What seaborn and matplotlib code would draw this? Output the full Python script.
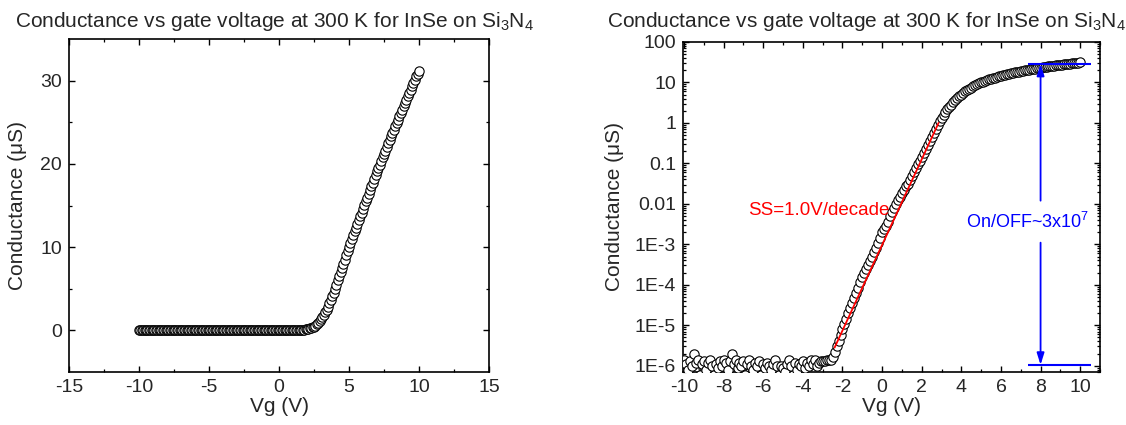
import numpy as np
import pandas as pd
import matplotlib
matplotlib.use("Agg")
import matplotlib.pyplot as plt
import matplotlib.ticker as mticker
import seaborn as sns

# ---------------- data ----------------
vg = np.round(np.linspace(-10, 10, 201), 1)  # gate voltage grid (V), 0.1 V step

# conductance (uS), off state  -10.0 ... -2.6 V
g_off = [1.4e-6, 1.1e-6, 8e-7, 1.3e-6, 1.0e-6, 2.0e-6, 1.2e-6, 1.4e-6, 6e-7, 1.1e-6,
         1.3e-6, 8e-7, 1.2e-6, 1.4e-6, 1.0e-6, 6e-7, 1.1e-6, 9e-7, 1.3e-6, 1.0e-6,
         1.4e-6, 1.2e-6, 8e-7, 1.3e-6, 2.0e-6, 1.1e-6, 1.4e-6, 9e-7, 1.2e-6, 1.0e-6,
         1.3e-6, 6e-7, 1.1e-6, 1.4e-6, 1.0e-6, 8e-7, 1.2e-6, 1.0e-6, 1.3e-6, 6e-7,
         1.1e-6, 9e-7, 1.2e-6, 1.0e-6, 8e-7, 1.1e-6, 1.4e-6, 1.0e-6, 6e-7, 1.0e-6,
         9e-7, 7e-7, 1.1e-6, 1.4e-6, 1.0e-6, 6e-7, 1.2e-6, 8e-7, 1.1e-6, 1.0e-6,
         1.3e-6, 9e-7, 1.2e-6, 1.0e-6, 1.4e-6, 1.1e-6, 1.4e-6, 1.0e-6, 1.2e-6, 1.3e-6,
         1.3e-6, 1.3e-6, 1.4e-6, 1.4e-6, 1.4e-6]
# subthreshold  -2.5 ... 2.9 V
g_sub = [1.66e-6, 2.24e-6, 3.16e-6, 4.17e-6, 5.62e-6, 7.94e-6, 1.05e-5, 1.41e-5, 2.0e-5, 2.69e-5,
         3.55e-5, 4.68e-5, 6.31e-5, 8.51e-5, 1.17e-4, 1.58e-4, 2.0e-4, 2.51e-4, 3.16e-4, 3.98e-4,
         4.9e-4, 6.31e-4, 7.94e-4, 1.05e-3, 1.41e-3, 2.0e-3, 2.4e-3, 2.8e-3, 3.5e-3, 5.0e-3,
         6.3e-3, 7.9e-3, 0.010, 0.0126, 0.0151, 0.019, 0.0224, 0.0269, 0.0316, 0.0398,
         0.0479, 0.060, 0.076, 0.095, 0.117, 0.145, 0.182, 0.229, 0.288, 0.363,
         0.457, 0.575, 0.724, 0.912, 1.12]
# on state  3.0 ... 10.0 V
g_on = [1.35, 1.6, 1.85, 2.15, 2.5, 2.85, 3.25, 3.65, 4.1, 4.55,
        5.0, 5.5, 6.0, 6.5, 7.0, 7.5, 8.0, 8.5, 9.0, 9.5,
        10.0, 10.5, 11.0, 11.45, 11.9, 12.35, 12.8, 13.25, 13.7, 14.15,
        14.6, 15.05, 15.5, 15.95, 16.4, 16.85, 17.3, 17.75, 18.2, 18.65,
        19.1, 19.5, 19.9, 20.35, 20.8, 21.2, 21.6, 22.05, 22.5, 22.9,
        23.3, 23.7, 24.1, 24.5, 24.9, 25.3, 25.7, 26.1, 26.5, 26.9,
        27.3, 27.7, 28.1, 28.5, 28.9, 29.3, 29.7, 30.1, 30.5, 30.85,
        31.2]

# subthreshold-swing fit line
fit_vg = [-2.4, 2.85]
fit_g = [2.8e-6, 1.0]

# on/off annotation
onoff_vg = 8.0
onoff_span = [7.35, 10.55]
on_g = 29.0
off_g = 1.05e-6

log_ticks = [1e-6, 1e-5, 1e-4, 1e-3, 1e-2, 1e-1, 1, 10, 100]
log_labels = ["1E-6", "1E-5", "1E-4", "1E-3", "0.01", "0.1", "1", "10", "100"]

df = pd.DataFrame({"Vg": vg, "G": g_off + g_sub + g_on})

# ---------------- style ----------------
sns.set_style("ticks")
plt.rcParams["font.family"] = ["Liberation Sans", "DejaVu Sans"]
plt.rcParams["mathtext.fontset"] = "custom"
plt.rcParams["mathtext.rm"] = "Liberation Sans"
plt.rcParams["mathtext.it"] = "Liberation Sans:italic"
plt.rcParams["axes.unicode_minus"] = False
plt.rcParams["axes.linewidth"] = 1.2
plt.rcParams["axes.edgecolor"] = "black"

fig = plt.figure(figsize=(11.26, 4.25), dpi=100)
ax1 = fig.add_axes([0.0613, 0.1247, 0.3730, 0.7835])
ax2 = fig.add_axes([0.6066, 0.1247, 0.3703, 0.7765])

title = "Conductance vs gate voltage at 300 K for InSe on Si$_3$N$_4$"
fig.text(274 / 1126, 1 - 27 / 425, title, ha="center", va="baseline", fontsize=15)
fig.text(866 / 1126, 1 - 27 / 425, title, ha="center", va="baseline", fontsize=15)

mk = dict(marker="o", s=45, color="white", edgecolor="black", linewidth=0.8, zorder=3, legend=False)

# ---- left: linear ----
sns.scatterplot(data=df, x="Vg", y="G", ax=ax1, **mk)
ax1.set_xlim(-15, 15)
ax1.set_ylim(-5, 35)
ax1.xaxis.set_major_locator(mticker.MultipleLocator(5))
ax1.xaxis.set_minor_locator(mticker.MultipleLocator(2.5))
ax1.yaxis.set_major_locator(mticker.FixedLocator([0, 10, 20, 30]))
ax1.yaxis.set_minor_locator(mticker.FixedLocator([5, 15, 25]))

# ---- right: log ----
sns.lineplot(data=df, x="Vg", y="G", ax=ax2, color="black", lw=0.8, sort=False,
             estimator=None, zorder=2)
sns.scatterplot(data=df, x="Vg", y="G", ax=ax2, **mk)
sns.lineplot(x=fit_vg, y=fit_g, ax=ax2, color="red", lw=1.3, zorder=4)
ax2.set_yscale("log")
ax2.set_xlim(-10.05, 11.0)
ax2.set_ylim(7e-7, 100)
ax2.xaxis.set_major_locator(mticker.MultipleLocator(2))
ax2.xaxis.set_minor_locator(mticker.MultipleLocator(1))
ax2.yaxis.set_major_locator(mticker.FixedLocator(log_ticks))
ax2.yaxis.set_major_formatter(mticker.FixedFormatter(log_labels))
ax2.yaxis.set_minor_locator(mticker.LogLocator(base=10, subs=np.arange(2, 10), numticks=50))
ax2.yaxis.set_minor_formatter(mticker.NullFormatter())

ax2.hlines([on_g, off_g], onoff_span[0], onoff_span[1], color="blue", lw=1.5, zorder=5)
ax2.annotate("", xy=(onoff_vg, on_g), xytext=(onoff_vg, 1.2e-2),
             arrowprops=dict(arrowstyle="-|>,head_length=0.7,head_width=0.22", color="blue",
                             lw=1.3, shrinkA=0, shrinkB=0), zorder=5)
ax2.annotate("", xy=(onoff_vg, off_g), xytext=(onoff_vg, 1.1e-3),
             arrowprops=dict(arrowstyle="-|>,head_length=0.7,head_width=0.22", color="blue",
                             lw=1.3, shrinkA=0, shrinkB=0), zorder=5)
ax2.text(7.35, 3.6e-3, "On/OFF~3x10$^7$", color="blue", fontsize=13, ha="center", va="center")
ax2.text(-3.2, 6.8e-3, "SS=1.0V/decade", color="red", fontsize=13.5, ha="center", va="center")

for ax in (ax1, ax2):
    ax.tick_params(which="both", direction="in", top=True, right=True, color="black",
                   labelsize=14, pad=5)
    ax.tick_params(which="major", length=4, width=1.0)
    ax.tick_params(which="minor", length=2.5, width=0.9)
    ax.set_xlabel("Vg (V)", fontsize=15)
    ax.set_ylabel("Conductance (μS)", fontsize=15)
    for sp in ax.spines.values():
        sp.set_visible(True)
        sp.set_linewidth(1.2)

ax1.xaxis.set_label_coords(0.5, -0.075)
ax1.yaxis.set_label_coords(-0.10, 0.5)
ax2.xaxis.set_label_coords(0.5, -0.076)
ax2.yaxis.set_label_coords(-0.141, 0.5)

fig.savefig("out.png", dpi=100)
